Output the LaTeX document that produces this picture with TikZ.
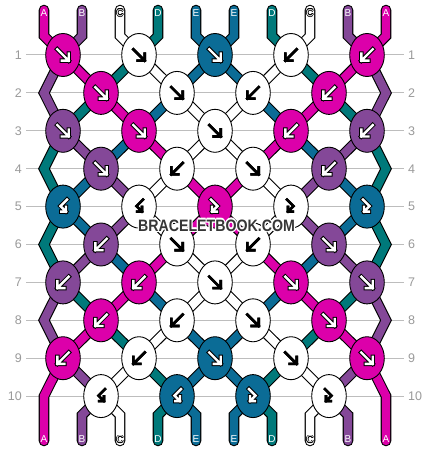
\documentclass[tikz,border=0pt]{standalone}
\usepackage{fontspec}
\setmainfont{Liberation Sans}
\usepackage{graphicx}
\usetikzlibrary{shapes.geometric}
\pgfdeclarelayer{grid}
\pgfdeclarelayer{strA}
\pgfdeclarelayer{strB}
\pgfsetlayers{grid,strA,strB,main}
\definecolor{colA}{HTML}{DC00AA}
\definecolor{colB}{HTML}{844898}
\definecolor{colC}{HTML}{FFFFFF}
\definecolor{colD}{HTML}{00797A}
\definecolor{colE}{HTML}{0B6C96}
\definecolor{rowgray}{HTML}{9A9A9A}
\definecolor{linegray}{HTML}{BDBDBD}
\definecolor{wmgray}{HTML}{363636}
\newcommand\strseg[2]{%
  \begin{pgfonlayer}{strA}\draw[strout] #1;\end{pgfonlayer}%
  \begin{pgfonlayer}{strB}\draw[strin,draw=#2] #1;\end{pgfonlayer}}
\begin{document}
\begin{tikzpicture}[x=1pt,y=-1pt,
  knot/.style={ellipse, draw=black, line width=0.9pt, minimum width=34.6pt, minimum height=43pt, inner sep=0pt},
  strout/.style={draw=black, line width=10.6pt, line join=miter, line cap=round},
  strin/.style={line width=8.4pt, line join=miter, line cap=round},
  gridline/.style={draw=linegray, line width=1pt},
  rowlab/.style={text=rowgray, font=\fontsize{12.5}{14}\selectfont, inner sep=0pt},
  strlab/.style={text=white, font=\fontsize{10}{12}\selectfont, inner sep=0pt},
  arr/.style={line cap=rect, line join=miter},
  outA/.style={draw=black, line width=4.4pt}, inA/.style={draw=white, line width=2.4pt},
  outB/.style={draw=black, line width=4.4pt}, inB/.style={draw=white, line width=2.4pt},
  outD/.style={draw=black, line width=4.4pt}, inD/.style={draw=white, line width=2.4pt},
  outE/.style={draw=black, line width=4.4pt}, inE/.style={draw=white, line width=2.4pt},
  outC/.style={draw=black, line width=2.6pt}, inC/.style={draw=black, line width=2.6pt},
  wmstyle/.style={font=\fontsize{16.5}{18}\selectfont\bfseries, inner sep=0pt}
]
\useasboundingbox (0,0) rectangle (430,452);
\begin{pgfonlayer}{grid}
  \fill[white] (0,0) rectangle (430,452);
\end{pgfonlayer}

% rows: edge points, grid lines, row labels
\foreach \r in {1,...,10}{
  \pgfmathsetmacro\yy{55+37.9*(\r-1)}
  \coordinate (L\r) at (44,\yy);
  \coordinate (R\r) at (386,\yy);
  \coordinate (GL\r) at (26,\yy);
  \coordinate (GR\r) at (404,\yy);
  \begin{pgfonlayer}{grid}\draw[gridline] (GL\r) -- (GR\r);\end{pgfonlayer}
  \node[rowlab, anchor=east] (rl\r) at (22,\yy) {\r};
  \node[rowlab, anchor=west] (rr\r) at (408,\yy) {\r};
}

% knots with arrows
\foreach \r/\ks in {
1/{A/1/0,C/1/0,E/1/0,C/-1/0,A/-1/0},
2/{A/1/0,C/1/0,C/-1/0,A/-1/0},
3/{B/1/0,A/1/0,C/1/0,A/-1/0,B/-1/0},
4/{B/1/0,C/-1/0,C/1/0,B/-1/0},
5/{E/-1/1,C/-1/1,A/1/1,C/1/1,E/1/1},
6/{B/-1/0,C/1/0,C/-1/0,B/1/0},
7/{B/-1/0,A/-1/0,C/1/0,A/1/0,B/1/0},
8/{A/-1/0,C/-1/0,C/1/0,A/1/0},
9/{A/-1/0,C/-1/0,E/1/0,C/1/0,A/1/0},
10/{C/-1/1,E/-1/1,E/1/1,C/1/1}}{
  \foreach \c/\d/\h [count=\i] in \ks {
    \pgfmathsetmacro\yy{55+37.9*(\r-1)}
    \ifodd\r\relax
      \pgfmathsetmacro\xx{63+76*(\i-1)}
    \else
      \pgfmathsetmacro\xx{101+76*(\i-1)}
    \fi
    \node[knot, fill=col\c] (k\r-\i) at (\xx,\yy) {};
    \begin{scope}[shift={(k\r-\i.center)}, xscale=\d]
      \ifnum\h=0
        \draw[arr, out\c] (-5.7,-5.7) -- (5.7,5.7) (5.7,-1.3) -- (5.7,5.7) -- (-1.3,5.7);
        \draw[arr, in\c] (-5.7,-5.7) -- (5.7,5.7) (5.7,-1.3) -- (5.7,5.7) -- (-1.3,5.7);
      \else
        \draw[arr, out\c] (-4,-7) -- (2.5,-0.5) -- (-3,5) (-3,0.2) -- (-3,5) -- (1.8,5);
        \draw[arr, in\c] (-4,-7) -- (2.5,-0.5) -- (-3,5) (-3,0.2) -- (-3,5) -- (1.8,5);
      \fi
    \end{scope}
  }
}

% interior string segments
\foreach \r/\st in {
1/{B,A,D,C,E,E,C,D,A,B},
2/{B,D,A,E,C,C,E,A,D,B},
3/{D,B,E,A,C,C,A,E,B,D},
4/{D,E,B,C,A,A,C,B,E,D},
5/{D,E,B,C,A,A,C,B,E,D},
6/{D,B,E,A,C,C,A,E,B,D},
7/{B,D,A,E,C,C,E,A,D,B},
8/{B,A,D,C,E,E,C,D,A,B},
9/{A,B,C,D,E,E,D,C,B,A}}{
  \pgfmathtruncatemacro\rn{\r+1}
  \foreach \c [count=\p] in \st {
    \ifnum\p>1 \ifnum\p<10
      \pgfmathtruncatemacro\ic{ceil(\p/2)}
      \pgfmathtruncatemacro\ifl{floor(\p/2)}
      \ifodd\r\relax
        \strseg{(k\r-\ic.center) -- (k\rn-\ifl.center)}{col\c}
      \else
        \strseg{(k\r-\ifl.center) -- (k\rn-\ic.center)}{col\c}
      \fi
    \fi\fi
  }
}

% edge zigzags
\foreach \r/\cl/\cr in {2/B/B,4/D/D,6/D/D,8/B/B}{
  \pgfmathtruncatemacro\ra{\r-1}
  \pgfmathtruncatemacro\rb{\r+1}
  \strseg{(k\ra-1.center) -- (L\r) -- (k\rb-1.center)}{col\cl}
  \strseg{(k\ra-5.center) -- (R\r) -- (k\rb-5.center)}{col\cr}
}

% top and bottom string ends
\foreach \c [count=\p] in {A,B,C,D,E,E,D,C,B,A}{
  \pgfmathsetmacro\sx{44+38*(\p-1)}
  \coordinate (T\p) at (\sx,10);
  \coordinate (TB\p) at (\sx,36);
  \coordinate (BB\p) at (\sx,415);
  \coordinate (B\p) at (\sx,441);
  \pgfmathtruncatemacro\ic{ceil(\p/2)}
  \pgfmathtruncatemacro\ifl{floor(\p/2)}
  \strseg{(T\p) -- (TB\p) -- (k1-\ic.center)}{col\c}
  \ifnum\p=1
    \strseg{(k9-1.center) -- (L10) -- (B\p)}{col\c}
  \else\ifnum\p=10
    \strseg{(k9-5.center) -- (R10) -- (B\p)}{col\c}
  \else
    \strseg{(k10-\ifl.center) -- (BB\p) -- (B\p)}{col\c}
  \fi\fi
  \ifnum\p=3 \def\lab{1}\else\ifnum\p=8 \def\lab{1}\else\def\lab{0}\fi\fi
  \ifnum\lab=1
    \foreach \dx/\dy [count=\q] in {0.6/0,-0.6/0,0/0.6,0/-0.6,0.45/0.45,-0.45/0.45,0.45/-0.45,-0.45/-0.45}{
      \node[strlab, text=black] (th\p-\q) at (\sx+\dx,13+\dy) {\c};
      \node[strlab, text=black] (bh\p-\q) at (\sx+\dx,439.5+\dy) {\c};
    }
  \fi
  \node[strlab] (tl\p) at (\sx,13) {\c};
  \node[strlab] (bl\p) at (\sx,439.5) {\c};
}

% watermark
\foreach \dx/\dy [count=\q] in {1.2/0,-1.2/0,0/1.2,0/-1.2,0.9/0.9,-0.9/0.9,0.9/-0.9,-0.9/-0.9}{
  \node[wmstyle, text=white] (wmh\q) at (216.5+\dx,225.5+\dy) {\scalebox{0.86}[1]{BRACELETBOOK.COM}};
}
\node[wmstyle, text=wmgray] (wm) at (216.5,225.5) {\scalebox{0.86}[1]{BRACELETBOOK.COM}};
\end{tikzpicture}
\end{document}
